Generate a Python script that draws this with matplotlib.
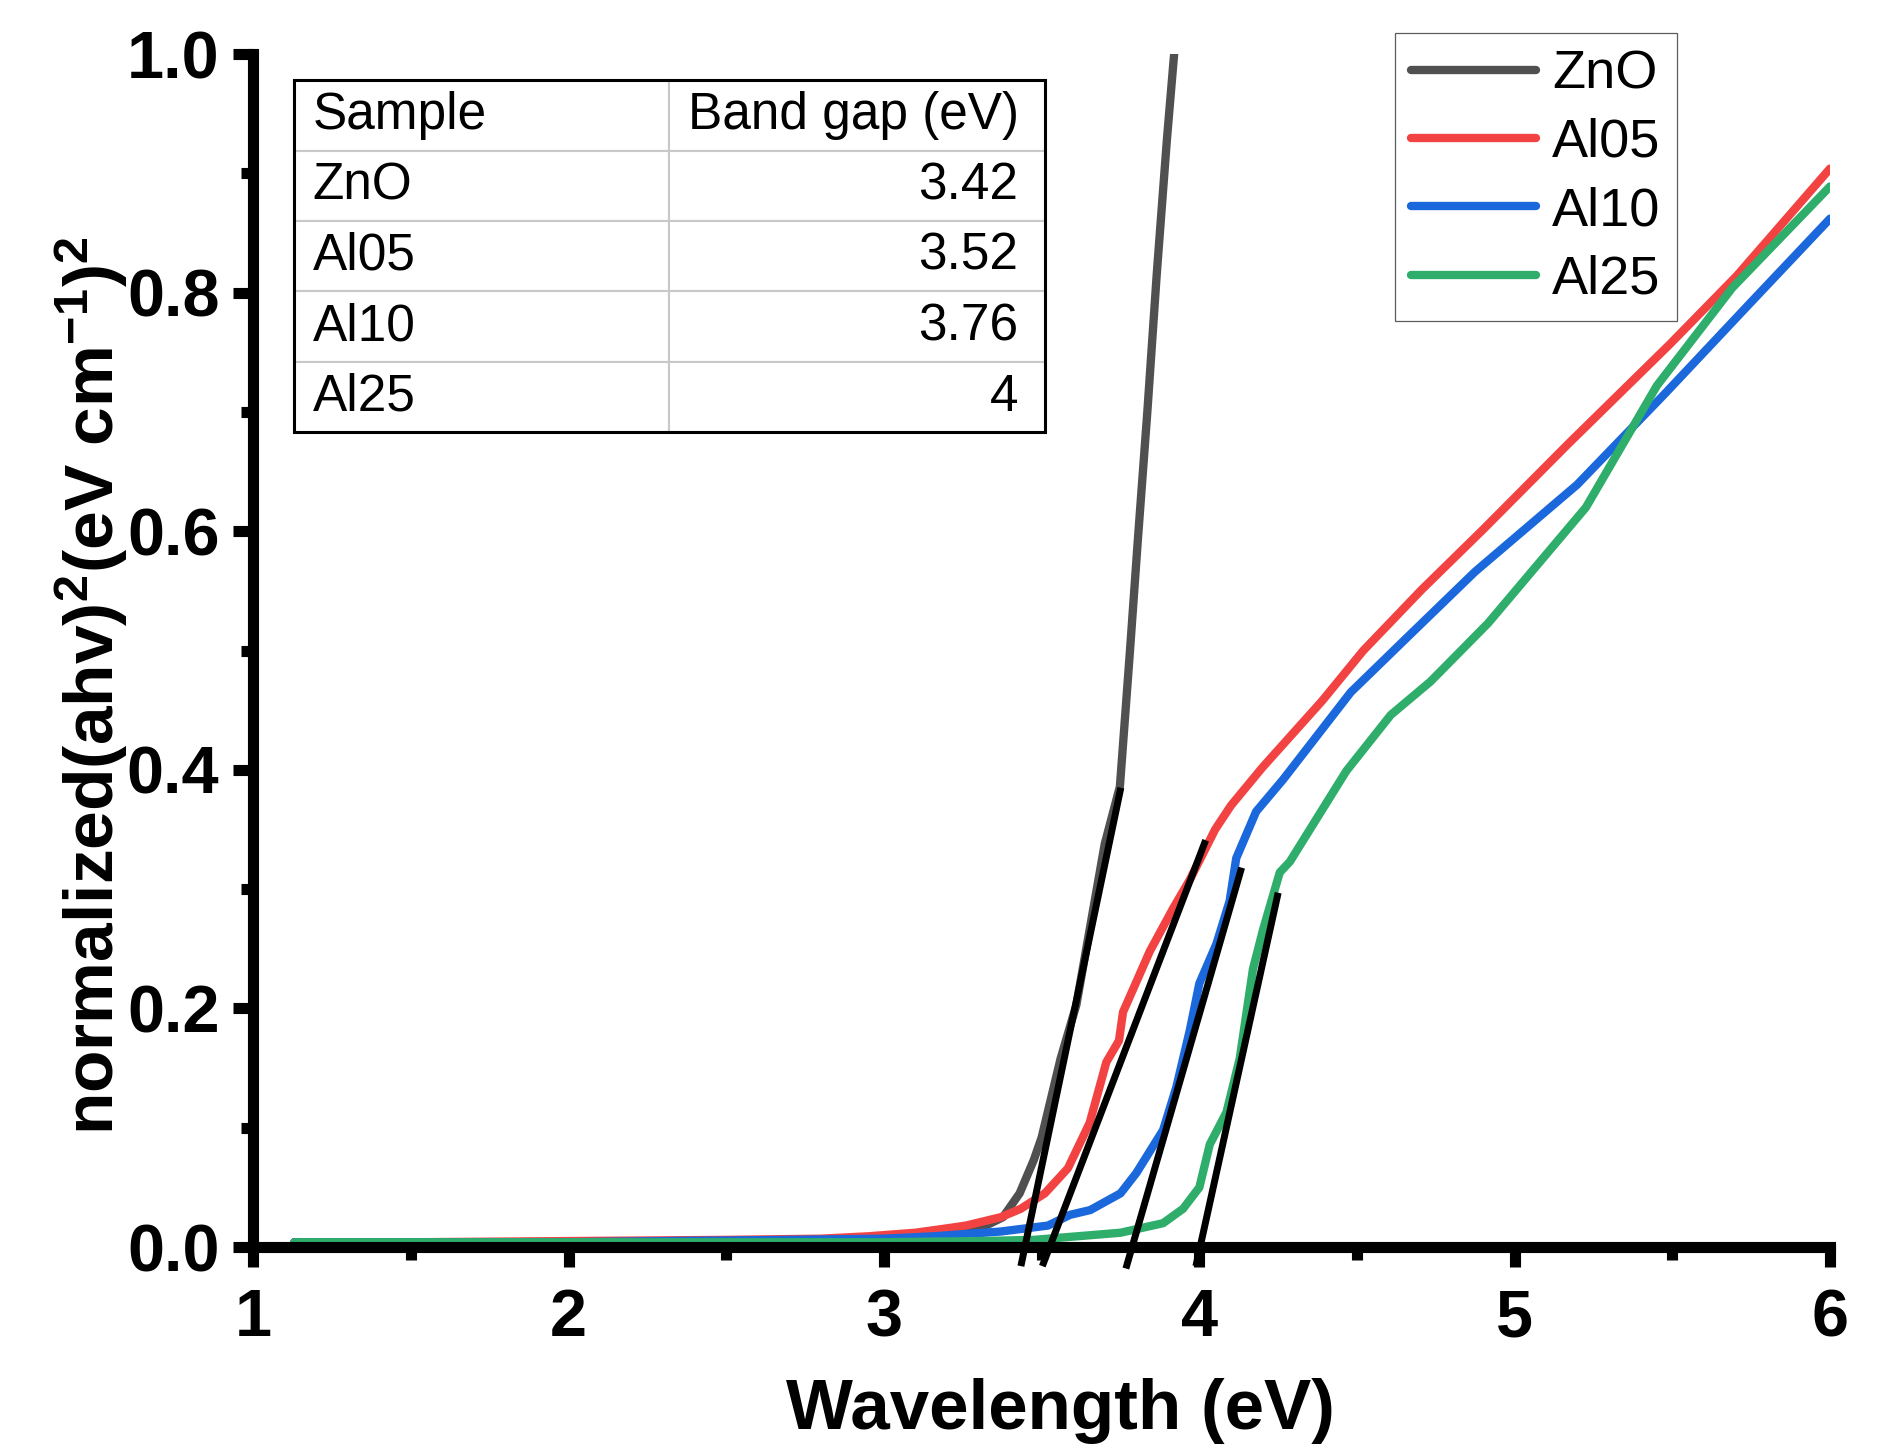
import numpy as np
import matplotlib
matplotlib.use('Agg')
import matplotlib.pyplot as plt
from matplotlib.ticker import AutoMinorLocator
from matplotlib.patches import Rectangle

plt.rcParams['font.family'] = ['Liberation Sans', 'DejaVu Sans']
plt.rcParams['mathtext.fontset'] = 'custom'
plt.rcParams['mathtext.rm'] = 'Liberation Sans:bold'
plt.rcParams['mathtext.default'] = 'rm'

# --- datos ---
ev_zno = [1.13, 1.5, 2.0, 2.5, 2.8, 3.0, 3.2, 3.3, 3.377, 3.43, 3.475, 3.50, 3.56,
          3.61, 3.65, 3.70, 3.748, 3.78, 3.805, 3.835, 3.865, 3.897, 3.92]
ahv_zno = [0.004, 0.004, 0.004, 0.005, 0.006, 0.007, 0.011, 0.015, 0.025, 0.045, 0.073,
           0.092, 0.158, 0.203, 0.263, 0.338, 0.386, 0.50, 0.593, 0.70, 0.816, 0.928, 1.0]

ev_al05 = [1.13, 1.5, 2.0, 2.5, 2.8, 2.95, 3.1, 3.208, 3.26, 3.37, 3.433, 3.51, 3.583,
           3.652, 3.705, 3.745, 3.758, 3.843, 3.917, 3.97, 4.05, 4.10, 4.20, 4.39,
           4.52, 4.705, 4.902, 5.169, 5.493, 5.704, 6.0]
ahv_al05 = [0.004, 0.004, 0.005, 0.006, 0.007, 0.009, 0.012, 0.016, 0.018, 0.025, 0.032,
            0.045, 0.066, 0.104, 0.155, 0.173, 0.197, 0.248, 0.284, 0.308, 0.35, 0.37,
            0.402, 0.458, 0.50, 0.551, 0.602, 0.673, 0.757, 0.814, 0.904]

ev_al10 = [1.13, 1.5, 2.0, 2.31, 2.7, 3.0, 3.158, 3.37, 3.52, 3.59, 3.654, 3.75, 3.80,
           3.885, 3.927, 3.97, 4.0, 4.054, 4.096, 4.117, 4.18, 4.266, 4.48, 4.663,
           4.874, 5.198, 5.479, 5.746, 6.0]
ahv_al10 = [0.004, 0.004, 0.004, 0.005, 0.006, 0.007, 0.009, 0.013, 0.018, 0.027, 0.031,
            0.045, 0.062, 0.098, 0.134, 0.182, 0.221, 0.254, 0.29, 0.326, 0.365, 0.392,
            0.465, 0.512, 0.566, 0.639, 0.716, 0.791, 0.862]

ev_al25 = [1.13, 1.5, 2.0, 2.5, 3.0, 3.3, 3.475, 3.75, 3.885, 3.948, 4.0, 4.033, 4.086,
           4.128, 4.17, 4.202, 4.255, 4.287, 4.466, 4.607, 4.733, 4.916, 5.226, 5.451,
           5.69, 6.0]
ahv_al25 = [0.004, 0.004, 0.004, 0.004, 0.004, 0.005, 0.006, 0.012, 0.02, 0.032, 0.05,
            0.086, 0.113, 0.158, 0.233, 0.266, 0.314, 0.323, 0.399, 0.446, 0.474, 0.523,
            0.62, 0.722, 0.804, 0.889]

# rectas de Tauc (extremos)
fit_x = [[3.434, 3.751], [3.502, 4.02], [3.767, 4.134], [3.989, 4.25]]
fit_y = [[-0.016, 0.385], [-0.016, 0.341], [-0.018, 0.318], [-0.016, 0.297]]

samples = ['ZnO', 'Al05', 'Al10', 'Al25']
band_gaps = ['3.42', '3.52', '3.76', '4']
colors = ['#505050', '#f24342', '#1a68dc', '#2ead6b']

fig = plt.figure(figsize=(18.94, 14.45), dpi=100)
ax = fig.add_axes([0.1338, 0.137, 0.8324, 0.8256])

series = [(ev_zno, ahv_zno), (ev_al05, ahv_al05), (ev_al10, ahv_al10), (ev_al25, ahv_al25)]
for (x, y), c, lab in zip(series, colors, samples):
    ax.plot(x, y, color=c, lw=6, label=lab, solid_capstyle='round', solid_joinstyle='round')

for fx, fy in zip(fit_x, fit_y):
    ax.plot(fx, fy, color='black', lw=5, solid_capstyle='butt', clip_on=False, zorder=3)

ax.set_xlim(1, 6)
ax.set_ylim(0, 1)
ax.set_xticks([1, 2, 3, 4, 5, 6])
ax.set_yticks([0.0, 0.2, 0.4, 0.6, 0.8, 1.0])
ax.set_yticklabels(['0.0', '0.2', '0.4', '0.6', '0.8', '1.0'])
ax.xaxis.set_minor_locator(AutoMinorLocator(2))
ax.yaxis.set_minor_locator(AutoMinorLocator(2))
ax.tick_params(which='major', direction='out', length=14.5, width=8)
ax.tick_params(which='minor', direction='out', length=9, width=8)
ax.tick_params(axis='x', which='major', pad=15, labelsize=48)
ax.tick_params(axis='y', which='major', pad=10, labelsize=48)
for lbl in ax.get_xticklabels() + ax.get_yticklabels():
    lbl.set_fontweight('bold')

for s in ['top', 'right']:
    ax.spines[s].set_visible(False)
for s in ['left', 'bottom']:
    ax.spines[s].set_linewidth(8)
    ax.spines[s].set_capstyle('projecting')

ax.set_xlabel('Wavelength (eV)', fontsize=51, fontweight='bold')
ax.set_ylabel(r'normalized(ahv)$^{2}$(eV cm$^{-1}$)$^{2}$', fontsize=50, fontweight='bold')
ax.xaxis.set_label_coords(0.512, -0.11)
ax.yaxis.set_label_coords(-0.078, 0.471)

leg = ax.legend(loc='upper right', bbox_to_anchor=(0.9028, 1.0174), borderaxespad=0,
                fontsize=39, frameon=True, fancybox=False, edgecolor='#333333',
                handlelength=2.3, handletextpad=0.3, labelspacing=0.34, borderpad=0.3)
leg.get_frame().set_linewidth(0.9)
for h in leg.get_lines():
    h.set_solid_capstyle('round')

tb = [0.0257, 0.683, 0.4763, 0.295]
tab = ax.table(cellText=[[s, g] for s, g in zip(samples, band_gaps)],
               colLabels=['Sample', 'Band gap (eV)'], cellLoc='left', colLoc='left',
               bbox=tb, zorder=5)
tab.auto_set_font_size(False)
tab.set_fontsize(37)
for (r, c), cell in tab.get_celld().items():
    cell.set_edgecolor('#c8c8c8')
    cell.set_linewidth(1.5)
    cell.PAD = 0.05
    if r > 0 and c == 1:
        cell._loc = 'right'
        cell.get_text().set_ha('right')
        cell.PAD = 0.07
ax.add_patch(Rectangle((tb[0], tb[1]), tb[2], tb[3], transform=ax.transAxes, fill=False,
                       ec='black', lw=2.2, zorder=6, clip_on=False))

fig.savefig('out.png', dpi=100)
